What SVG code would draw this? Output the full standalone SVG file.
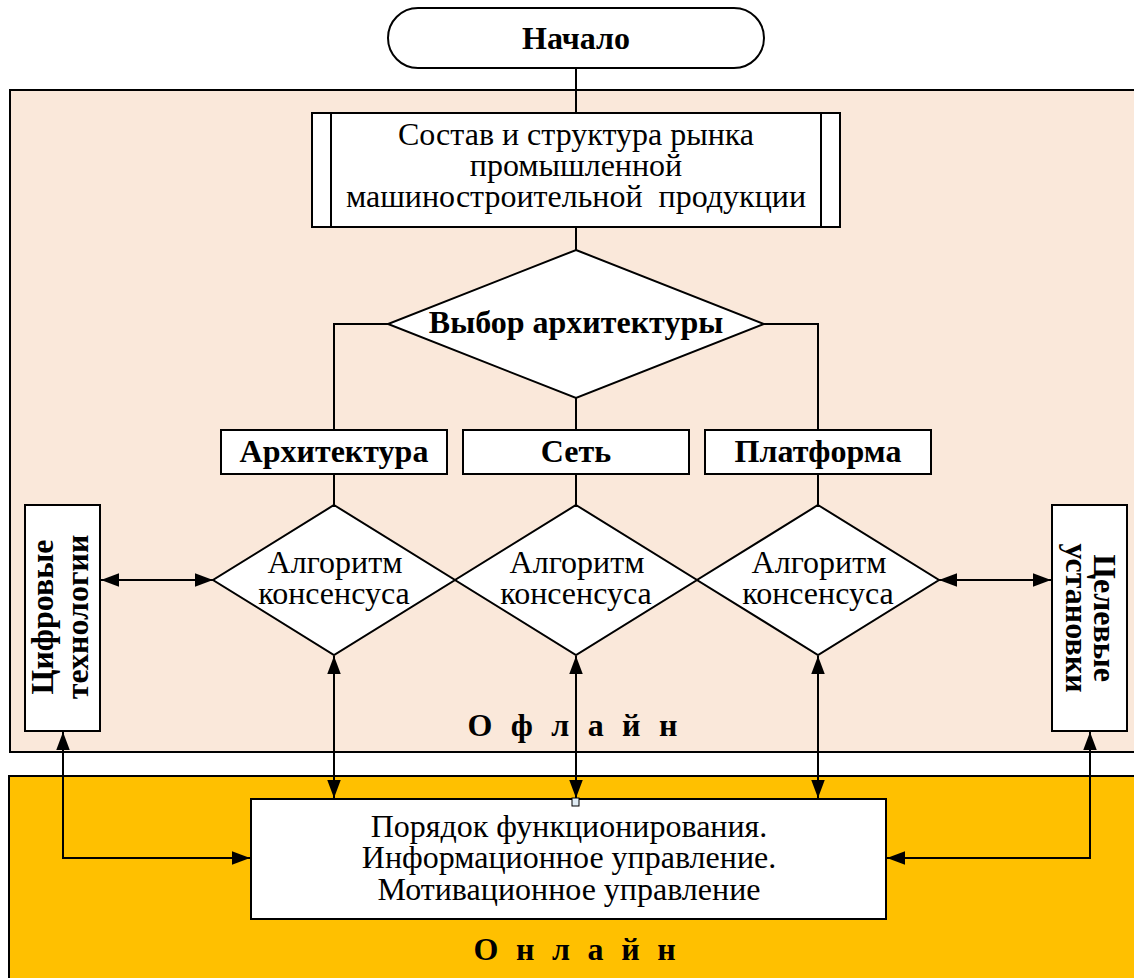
<svg xmlns="http://www.w3.org/2000/svg" width="1134" height="978" viewBox="0 0 1134 978">
<defs>
<style>
.sh{stroke:#000;stroke-width:2;fill:#fff}
.ln{stroke:#000;stroke-width:2;fill:none}
.da{marker-start:url(#ah);marker-end:url(#ah)}
.t{font-family:"Liberation Serif","Times New Roman",serif;font-size:32px;fill:#000;text-anchor:middle}
.b{font-weight:bold}
</style>
<marker id="ah" markerUnits="userSpaceOnUse" markerWidth="18" markerHeight="14" refX="16" refY="6" orient="auto-start-reverse" viewBox="0 0 16 12">
<path d="M0,0 L16,6 L0,12 z" fill="#000"/>
</marker>
</defs>
<g id="areas">
<rect x="10" y="90" width="1140" height="662" fill="#FAE8DA" stroke="#000" stroke-width="2"/>
<rect x="9" y="776" width="1140" height="220" fill="#FFC000" stroke="#000" stroke-width="2"/>
<text class="t b" x="575" y="736" letter-spacing="5.2">О ф л а й н</text>
<text class="t b" x="577" y="960" letter-spacing="4.8">О н л а й н</text>
</g>
<g id="connectors">
<line class="ln" x1="576" y1="68" x2="576" y2="113"/>
<line class="ln" x1="576" y1="227" x2="576" y2="250"/>
<polyline class="ln" points="388,324 334,324 334,430"/>
<polyline class="ln" points="764,324 818,324 818,430"/>
<line class="ln" x1="576" y1="398" x2="576" y2="430"/>
<line class="ln" x1="334" y1="474" x2="334" y2="505"/>
<line class="ln" x1="576" y1="474" x2="576" y2="505"/>
<line class="ln" x1="818" y1="474" x2="818" y2="505"/>
<line class="ln da" x1="101" y1="580" x2="213" y2="580"/>
<line class="ln da" x1="939" y1="580" x2="1051" y2="580"/>
<line class="ln da" x1="334" y1="656" x2="334" y2="798"/>
<line class="ln da" x1="576" y1="656" x2="576" y2="798"/>
<line class="ln da" x1="818" y1="656" x2="818" y2="798"/>
<polyline class="ln da" points="63,732 63,858 250,858"/>
<polyline class="ln da" points="1090,732 1090,858 887,858"/>
</g>
<g id="start">
<rect class="sh" x="388" y="8" width="376" height="60" rx="30" ry="30"/>
<text class="t b" x="576" y="49">Начало</text>
</g>
<g id="market">
<rect class="sh" x="312" y="113" width="528" height="114"/>
<line class="ln" x1="331" y1="113" x2="331" y2="227"/>
<line class="ln" x1="821" y1="113" x2="821" y2="227"/>
<text class="t" x="576" y="145">Состав и структура рынка</text>
<text class="t" x="576" y="176">промышленной</text>
<text class="t" x="576" y="207" xml:space="preserve">машиностроительной  продукции</text>
</g>
<g id="choice">
<polygon class="sh" points="576,250 764,324 576,398 388,324"/>
<text class="t b" x="576" y="333">Выбор архитектуры</text>
</g>
<g id="arch">
<rect class="sh" x="221" y="430" width="226" height="44"/>
<text class="t b" x="334" y="462">Архитектура</text>
</g>
<g id="net">
<rect class="sh" x="463" y="430" width="226" height="44"/>
<text class="t b" x="576" y="462">Сеть</text>
</g>
<g id="platform">
<rect class="sh" x="705" y="430" width="226" height="44"/>
<text class="t b" x="818" y="462">Платформа</text>
</g>
<g id="cons1">
<polygon class="sh" points="334,505 455,580 334,655 213,580"/>
<text class="t" x="335" y="573">Алгоритм</text>
<text class="t" x="334" y="604">консенсуса</text>
</g>
<g id="cons2">
<polygon class="sh" points="576,505 697,580 576,655 455,580"/>
<text class="t" x="577" y="573">Алгоритм</text>
<text class="t" x="576" y="604">консенсуса</text>
</g>
<g id="cons3">
<polygon class="sh" points="818,505 939,580 818,655 697,580"/>
<text class="t" x="819" y="573">Алгоритм</text>
<text class="t" x="818" y="604">консенсуса</text>
</g>
<g id="digital">
<rect class="sh" x="25" y="505" width="75" height="226"/>
<text class="t b" font-size="33" transform="translate(53,617) rotate(-90)">Цифровые</text>
<text class="t b" font-size="33" transform="translate(88,617) rotate(-90)">технологии</text>
</g>
<g id="targets">
<rect class="sh" x="1052" y="505" width="75" height="226"/>
<text class="t b" font-size="33" transform="translate(1094,618) rotate(90)">Целевые</text>
<text class="t b" font-size="33" transform="translate(1066,618) rotate(90)">установки</text>
</g>
<g id="order">
<rect class="sh" x="251" y="799" width="635" height="120" stroke-width="2.5"/>
<rect x="572" y="798" width="7" height="8" fill="#E0ECF4" stroke="#000" stroke-width="1"/>
<text class="t" font-size="31" x="569" y="837">Порядок функционирования.</text>
<text class="t" font-size="31" x="569" y="868">Информационное управление.</text>
<text class="t" font-size="31" x="569" y="900">Мотивационное управление</text>
</g>
</svg>
